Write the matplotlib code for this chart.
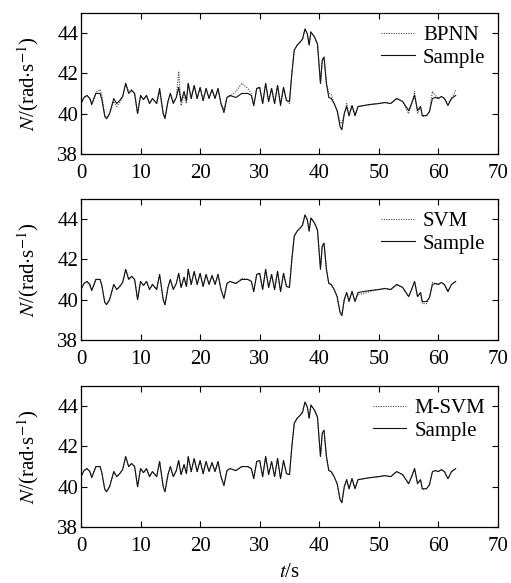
import matplotlib
matplotlib.use('Agg')
import matplotlib.pyplot as plt
import numpy as np

plt.rcParams['font.family'] = ['Liberation Serif', 'DejaVu Serif']
plt.rcParams['mathtext.fontset'] = 'stix'

# time axis (s) and measured speed
t = [0, 0.5, 1, 1.5, 1.8, 2.5, 3.2, 3.5, 4.0, 4.3, 4.8, 5.5, 6, 6.5, 7, 7.5, 8, 8.5, 9, 9.5,
     10, 10.5, 11, 11.5, 12, 12.7, 13.2, 13.8, 14.1, 14.6, 15, 15.5, 16, 16.4, 16.8, 17.3, 17.7, 18, 18.5, 19,
     19.5, 20, 20.5, 21, 21.5, 22, 22.5, 23, 23.5, 24, 24.5, 25, 26, 27, 28, 28.6, 29, 29.5, 30, 30.5,
     31, 31.5, 32, 32.5, 33, 33.5, 34, 34.5, 35, 35.4, 35.8, 36.3, 36.8, 37.2, 37.6, 38, 38.3, 38.6, 39.2, 39.7,
     40.2, 40.5, 40.8, 41.2, 41.6, 42, 42.5, 43, 43.5, 43.8, 44.2, 44.6, 45, 45.5, 46, 46.5, 47.5, 48.5, 50, 51,
     52, 53, 54, 55, 55.5, 56, 56.5, 57, 57.3, 58, 58.5, 59, 59.5, 60, 60.5, 61, 61.6, 62.2, 62.9]

sample = [40.5, 40.8, 40.9, 40.75, 40.45, 41.0, 41.0, 40.7, 39.85, 39.75, 40.0, 40.75, 40.5, 40.65, 40.85, 41.5, 41.0, 41.15, 41.0, 40.0,
          40.9, 40.7, 40.9, 40.5, 40.75, 40.5, 41.25, 40.0, 39.75, 40.6, 41.0, 40.5, 40.8, 41.3, 40.6, 41.1, 40.65, 41.5, 40.75, 41.4,
          40.75, 41.3, 40.65, 41.25, 40.75, 41.2, 40.75, 41.25, 40.5, 40.05, 40.8, 40.9, 40.8, 41.0, 41.0, 40.9, 40.4, 41.25, 41.3, 40.5,
          41.5, 40.6, 41.25, 40.5, 41.4, 40.4, 41.3, 40.65, 40.6, 42.0, 43.15, 43.4, 43.55, 43.7, 44.2, 43.95, 43.4, 44.05, 43.8, 43.45,
          41.5, 42.65, 42.8, 41.5, 40.8, 40.75, 40.5, 40.15, 39.35, 39.2, 40.0, 40.35, 39.9, 40.4, 39.9, 40.35, 40.4, 40.45, 40.5, 40.55,
          40.5, 40.75, 40.6, 40.15, 40.5, 40.9, 40.15, 40.35, 39.9, 39.9, 40.1, 40.75, 40.8, 40.75, 40.85, 40.75, 40.4, 40.75, 40.9]

bpnn = [40.5, 40.8, 40.9, 40.7, 40.45, 41.05, 41.2, 40.9, 39.95, 39.75, 40.0, 40.6, 40.35, 40.55, 40.85, 41.5, 41.1, 41.2, 41.0, 40.0,
        40.9, 40.7, 40.9, 40.5, 40.75, 40.5, 41.1, 40.0, 39.85, 40.6, 41.0, 40.6, 40.8, 42.1, 40.4, 40.9, 40.5, 41.5, 40.75, 41.4,
        40.75, 41.3, 40.65, 41.25, 40.75, 41.2, 40.75, 41.25, 40.5, 40.2, 40.8, 40.85, 41.1, 41.5, 41.25, 41.0, 40.4, 41.25, 41.3, 40.5,
        41.5, 40.6, 41.25, 40.5, 41.4, 40.5, 41.3, 40.65, 40.5, 42.0, 43.15, 43.4, 43.55, 43.7, 44.2, 43.95, 43.4, 44.05, 43.8, 43.45,
        41.5, 42.65, 42.8, 41.5, 41.0, 40.95, 40.5, 40.15, 39.6, 39.5, 40.0, 40.5, 39.9, 40.4, 39.9, 40.35, 40.4, 40.45, 40.5, 40.55,
        40.5, 40.75, 40.6, 40.0, 40.5, 41.1, 40.0, 40.35, 39.85, 39.9, 40.1, 41.1, 40.9, 40.75, 40.85, 40.75, 40.5, 40.75, 41.15]

svm = [40.5, 40.8, 40.9, 40.65, 40.45, 41.0, 41.0, 40.7, 39.85, 39.8, 40.0, 40.75, 40.5, 40.65, 40.85, 41.5, 41.05, 41.15, 41.0, 40.0,
       40.9, 40.7, 40.9, 40.5, 40.75, 40.5, 41.25, 40.0, 39.75, 40.6, 41.0, 40.5, 40.8, 41.3, 40.6, 41.1, 40.65, 41.5, 40.75, 41.4,
       40.75, 41.3, 40.65, 41.25, 40.75, 41.2, 40.75, 41.25, 40.5, 40.1, 40.8, 40.9, 40.8, 41.05, 41.0, 40.9, 40.4, 41.25, 41.3, 40.5,
       41.5, 40.6, 41.25, 40.5, 41.4, 40.4, 41.3, 40.65, 40.7, 42.0, 43.15, 43.4, 43.55, 43.7, 44.2, 43.95, 43.4, 44.05, 43.8, 43.45,
       41.6, 42.65, 42.8, 41.5, 40.8, 40.75, 40.5, 40.15, 39.35, 39.3, 40.0, 40.35, 40.0, 40.4, 39.95, 40.25, 40.3, 40.4, 40.5, 40.55,
       40.5, 40.75, 40.6, 40.15, 40.5, 40.9, 40.15, 40.35, 39.8, 39.8, 40.1, 40.85, 40.8, 40.75, 40.85, 40.75, 40.4, 40.75, 40.9]

msvm = [40.5, 40.8, 40.9, 40.75, 40.45, 41.0, 41.0, 40.7, 39.85, 39.8, 40.0, 40.75, 40.5, 40.65, 40.85, 41.5, 41.0, 41.15, 41.0, 40.0,
        40.9, 40.7, 40.9, 40.5, 40.75, 40.5, 41.25, 40.0, 39.75, 40.6, 41.0, 40.5, 40.8, 41.3, 40.6, 41.1, 40.65, 41.5, 40.75, 41.4,
        40.75, 41.3, 40.65, 41.25, 40.75, 41.2, 40.75, 41.25, 40.5, 40.1, 40.8, 40.9, 40.8, 41.0, 41.0, 40.9, 40.4, 41.25, 41.3, 40.5,
        41.5, 40.6, 41.25, 40.5, 41.4, 40.4, 41.3, 40.65, 40.6, 42.0, 43.15, 43.4, 43.55, 43.7, 44.2, 43.95, 43.4, 44.05, 43.8, 43.45,
        41.5, 42.65, 42.8, 41.5, 40.8, 40.75, 40.5, 40.15, 39.35, 39.25, 40.0, 40.35, 39.9, 40.4, 39.9, 40.35, 40.4, 40.45, 40.5, 40.55,
        40.5, 40.75, 40.6, 40.15, 40.5, 40.9, 40.15, 40.35, 39.85, 39.9, 40.1, 40.75, 40.8, 40.75, 40.85, 40.75, 40.4, 40.75, 40.9]

models = ['BPNN', 'SVM', 'M-SVM']
preds = [bpnn, svm, msvm]
xticks = [0, 10, 20, 30, 40, 50, 60, 70]
yticks = [38, 40, 42, 44]

fs = 15
fig = plt.figure(figsize=(5.11, 5.83), dpi=100)
bottoms = [0.736, 0.417, 0.096]
for i in range(3):
    ax = fig.add_axes([0.1585, bottoms[i], 0.816, 0.242])
    ax.plot(t, preds[i], color='#444444', lw=0.8, ls=(0, (1, 1.2)), label=models[i])
    ax.plot(t, sample, color='#111111', lw=0.8, label='Sample')
    ax.set_xlim(0, 70)
    ax.set_ylim(38, 45)
    ax.set_xticks(xticks)
    ax.set_yticks(yticks)
    ax.tick_params(direction='in', top=True, right=True, length=4, labelsize=fs)
    ax.tick_params(axis='x', pad=7)
    ax.tick_params(axis='y', pad=2)
    for s in ax.spines.values():
        s.set_linewidth(0.9)
    ax.set_ylabel(r'$N$/(rad$\cdot$s$^{-1}$)', fontsize=fs, labelpad=12)
    ax.legend(loc='upper right', frameon=False, fontsize=fs, handlelength=1.6,
              handletextpad=0.4, labelspacing=0.15, borderaxespad=0.2)
    if i == 2:
        ax.set_xlabel(r'$t$/s', fontsize=fs, labelpad=5)

fig.savefig('out.png', dpi=100)
